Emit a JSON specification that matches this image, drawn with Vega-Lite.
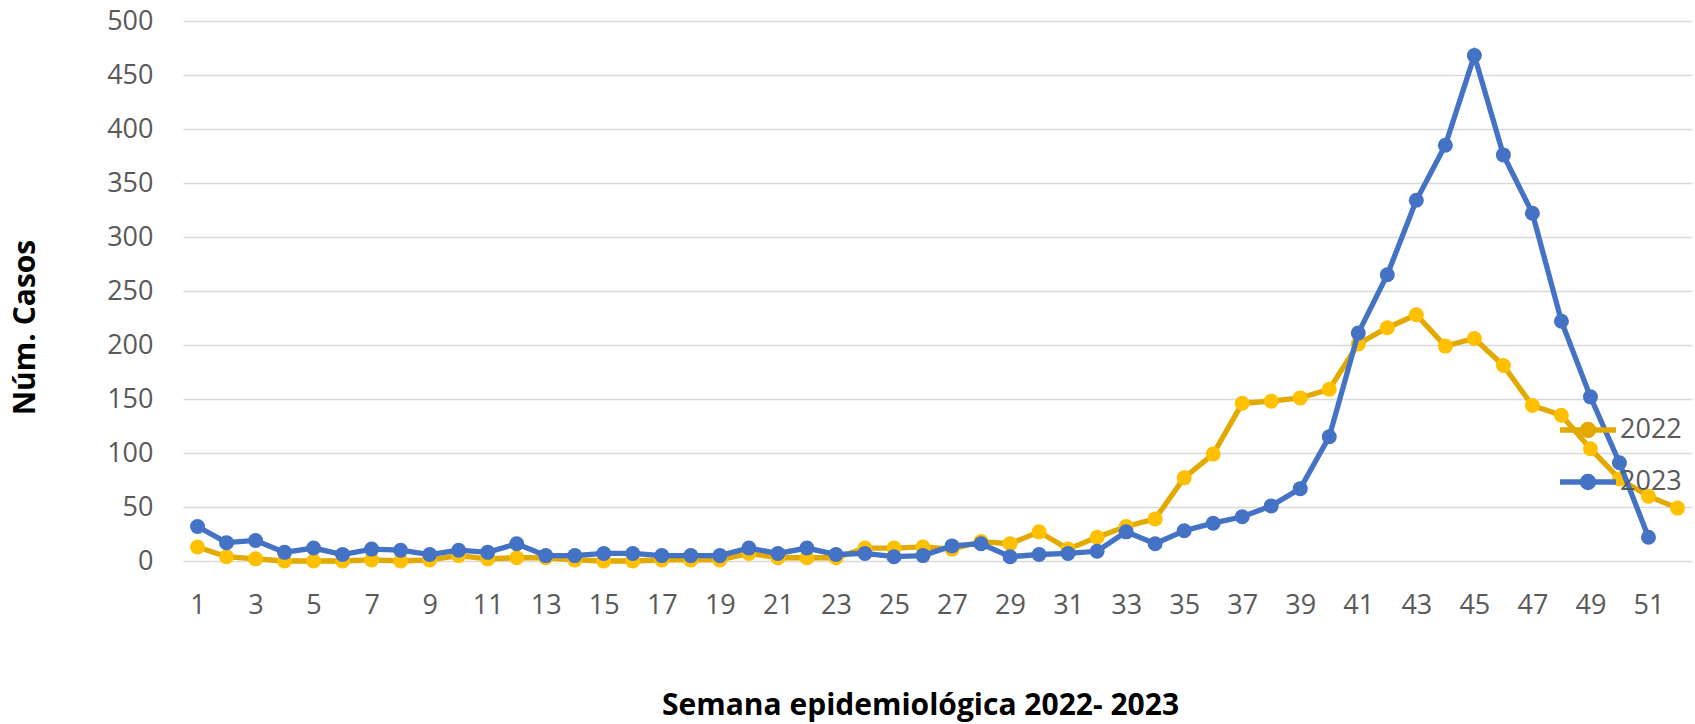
{
  "$schema": "https://vega.github.io/schema/vega-lite/v6.json",
  "width": 1509,
  "height": 540,
  "autosize": {"type": "none"},
  "padding": {"left": 183, "top": 21, "right": 3, "bottom": 163},
  "background": "#FFFFFF",
  "config": {
    "view": {"stroke": null},
    "font": "Open Sans"
  },
  "data": {
    "values": [
      {"week":1,"year":"2022","cases":13},{"week":2,"year":"2022","cases":4},{"week":3,"year":"2022","cases":2},{"week":4,"year":"2022","cases":0},{"week":5,"year":"2022","cases":0},{"week":6,"year":"2022","cases":0},{"week":7,"year":"2022","cases":1},{"week":8,"year":"2022","cases":0},{"week":9,"year":"2022","cases":1},{"week":10,"year":"2022","cases":5},{"week":11,"year":"2022","cases":2},{"week":12,"year":"2022","cases":3},{"week":13,"year":"2022","cases":3},{"week":14,"year":"2022","cases":1},{"week":15,"year":"2022","cases":0},{"week":16,"year":"2022","cases":0},{"week":17,"year":"2022","cases":1},{"week":18,"year":"2022","cases":1},{"week":19,"year":"2022","cases":1},{"week":20,"year":"2022","cases":7},{"week":21,"year":"2022","cases":3},{"week":22,"year":"2022","cases":3},{"week":23,"year":"2022","cases":3},{"week":24,"year":"2022","cases":12},{"week":25,"year":"2022","cases":12},{"week":26,"year":"2022","cases":13},{"week":27,"year":"2022","cases":11},{"week":28,"year":"2022","cases":18},{"week":29,"year":"2022","cases":16},{"week":30,"year":"2022","cases":27},{"week":31,"year":"2022","cases":11},{"week":32,"year":"2022","cases":22},{"week":33,"year":"2022","cases":32},{"week":34,"year":"2022","cases":39},{"week":35,"year":"2022","cases":77},{"week":36,"year":"2022","cases":99},{"week":37,"year":"2022","cases":146},{"week":38,"year":"2022","cases":148},{"week":39,"year":"2022","cases":151},{"week":40,"year":"2022","cases":159},{"week":41,"year":"2022","cases":201},{"week":42,"year":"2022","cases":216},{"week":43,"year":"2022","cases":228},{"week":44,"year":"2022","cases":199},{"week":45,"year":"2022","cases":206},{"week":46,"year":"2022","cases":181},{"week":47,"year":"2022","cases":144},{"week":48,"year":"2022","cases":135},{"week":49,"year":"2022","cases":104},{"week":50,"year":"2022","cases":76},{"week":51,"year":"2022","cases":60},{"week":52,"year":"2022","cases":49},
      {"week":1,"year":"2023","cases":32},{"week":2,"year":"2023","cases":17},{"week":3,"year":"2023","cases":19},{"week":4,"year":"2023","cases":8},{"week":5,"year":"2023","cases":12},{"week":6,"year":"2023","cases":6},{"week":7,"year":"2023","cases":11},{"week":8,"year":"2023","cases":10},{"week":9,"year":"2023","cases":6},{"week":10,"year":"2023","cases":10},{"week":11,"year":"2023","cases":8},{"week":12,"year":"2023","cases":16},{"week":13,"year":"2023","cases":5},{"week":14,"year":"2023","cases":5},{"week":15,"year":"2023","cases":7},{"week":16,"year":"2023","cases":7},{"week":17,"year":"2023","cases":5},{"week":18,"year":"2023","cases":5},{"week":19,"year":"2023","cases":5},{"week":20,"year":"2023","cases":12},{"week":21,"year":"2023","cases":7},{"week":22,"year":"2023","cases":12},{"week":23,"year":"2023","cases":6},{"week":24,"year":"2023","cases":7},{"week":25,"year":"2023","cases":4},{"week":26,"year":"2023","cases":5},{"week":27,"year":"2023","cases":14},{"week":28,"year":"2023","cases":16},{"week":29,"year":"2023","cases":4},{"week":30,"year":"2023","cases":6},{"week":31,"year":"2023","cases":7},{"week":32,"year":"2023","cases":9},{"week":33,"year":"2023","cases":27},{"week":34,"year":"2023","cases":16},{"week":35,"year":"2023","cases":28},{"week":36,"year":"2023","cases":35},{"week":37,"year":"2023","cases":41},{"week":38,"year":"2023","cases":51},{"week":39,"year":"2023","cases":67},{"week":40,"year":"2023","cases":115},{"week":41,"year":"2023","cases":211},{"week":42,"year":"2023","cases":265},{"week":43,"year":"2023","cases":334},{"week":44,"year":"2023","cases":385},{"week":45,"year":"2023","cases":468},{"week":46,"year":"2023","cases":376},{"week":47,"year":"2023","cases":322},{"week":48,"year":"2023","cases":222},{"week":49,"year":"2023","cases":152},{"week":50,"year":"2023","cases":91},{"week":51,"year":"2023","cases":22}
    ]
  },
  "encoding": {
    "x": {
      "field": "week", "type": "quantitative",
      "scale": {"domain": [0.5, 52.5], "nice": false, "zero": false},
      "axis": {
        "values": [1,3,5,7,9,11,13,15,17,19,21,23,25,27,29,31,33,35,37,39,41,43,45,47,49,51],
        "grid": false, "domain": false, "ticks": false, "tickSize": 0,
        "labelPadding": 31, "labelFontSize": 27, "labelColor": "#595959", "labelFont": "Open Sans",
        "labelFlush": false,
        "title": "Semana epidemiológica 2022- 2023",
        "titleFont": "Open Sans", "titleFontSize": 30, "titleFontWeight": "bold", "titleColor": "#000000",
        "titleX": 737, "titleY": 144, "titleAlign": "center", "titleBaseline": "middle"
      }
    },
    "y": {
      "field": "cases", "type": "quantitative",
      "scale": {"domain": [0, 500], "nice": false},
      "axis": {
        "values": [0,50,100,150,200,250,300,350,400,450,500],
        "grid": true, "gridColor": "#D9D9D9", "gridWidth": 1.7,
        "domain": false, "ticks": false, "tickSize": 0,
        "labelPadding": 30, "labelFontSize": 27, "labelColor": "#595959", "labelFont": "Open Sans",
        "labelFlush": false,
        "title": "Núm. Casos",
        "titleFont": "Open Sans", "titleFontSize": 30, "titleFontWeight": "bold", "titleColor": "#000000",
        "titleX": -158, "titleY": 306, "titleAlign": "center", "titleBaseline": "middle", "titleAngle": -90
      }
    }
  },
  "layer": [
    {
      "transform": [{"filter": "datum.year == '2022'"}],
      "mark": {"type": "line", "strokeWidth": 5.3},
      "encoding": {
        "color": {
          "field": "year", "type": "nominal",
          "scale": {"domain": ["2022", "2023"], "range": ["#E2AA00", "#4472C4"]},
          "legend": {
            "orient": "none", "legendX": 1374, "legendY": 378, "padding": 0,
            "title": null,
            "symbolType": "M-1,0L1,0M0.2,0A0.2,0.2,0,1,1,-0.2,0A0.2,0.2,0,1,1,0.2,0Z",
            "symbolSize": 3136, "symbolStrokeWidth": 5.3,
            "labelFont": "Open Sans", "labelFontSize": 27, "labelColor": "#595959",
            "labelOffset": 1, "rowPadding": 4,
            "encode": {
              "symbols": {
                "update": {
                  "fill": {"signal": "datum.value == '2022' ? '#FFC000' : '#4472C4'"},
                  "fillOpacity": {"value": 1},
                  "stroke": {"signal": "datum.value == '2022' ? '#E2AA00' : '#4472C4'"},
                  "opacity": {"value": 1}
                }
              }
            }
          }
        }
      }
    },
    {
      "transform": [{"filter": "datum.year == '2022'"}],
      "mark": {"type": "point", "filled": true, "shape": "circle", "size": 225, "opacity": 1, "strokeWidth": 0},
      "encoding": {
        "fill": {
          "field": "year", "type": "nominal",
          "scale": {"domain": ["2022", "2023"], "range": ["#FFC000", "#4472C4"]},
          "legend": null
        }
      }
    },
    {
      "transform": [{"filter": "datum.year == '2023'"}],
      "mark": {"type": "line", "strokeWidth": 5.3},
      "encoding": {
        "color": {"field": "year", "type": "nominal"}
      }
    },
    {
      "transform": [{"filter": "datum.year == '2023'"}],
      "mark": {"type": "point", "filled": true, "shape": "circle", "size": 225, "opacity": 1, "strokeWidth": 0},
      "encoding": {
        "fill": {"field": "year", "type": "nominal", "legend": null}
      }
    }
  ]
}
